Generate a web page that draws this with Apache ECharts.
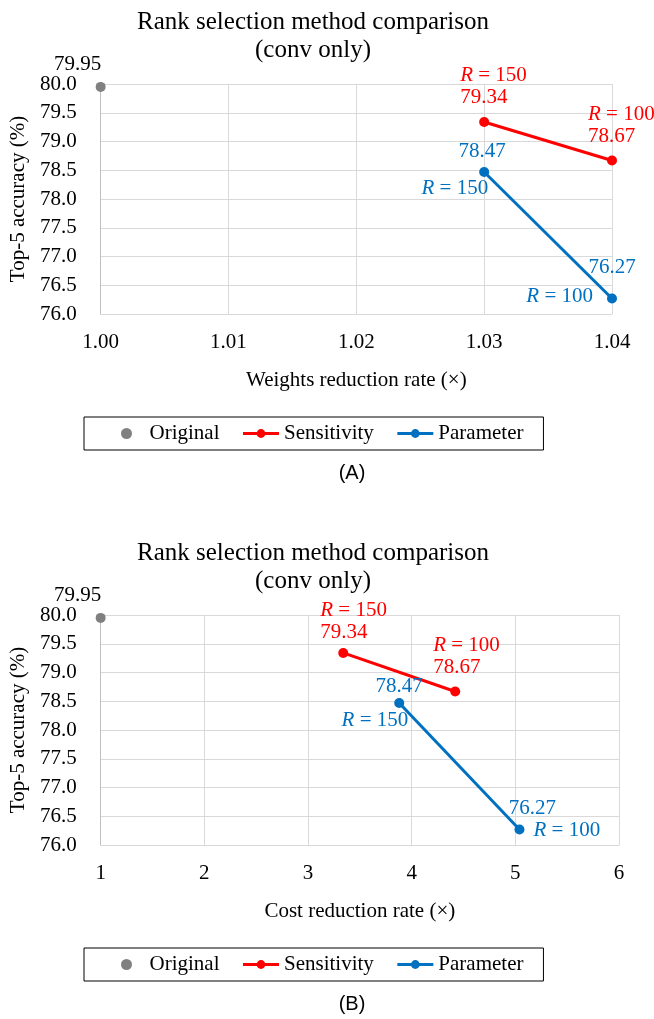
<!DOCTYPE html>
<html>
<head>
<meta charset="utf-8">
<script src="https://cdn.jsdelivr.net/npm/echarts@6/dist/echarts.min.js"></script>
<style>
html, body { margin: 0; padding: 0; background: #fff; }
#main { width: 654px; height: 1019px; }
</style>
</head>
<body>
<div id="main"></div>
<script>
// ---- data ----
var titleText = 'Rank selection method comparison\n(conv only)';
var seriesNames = ['Original', 'Sensitivity', 'Parameter'];
var ranks = [150, 100];

var accOriginal = [79.95];
var accSens = [79.34, 78.67];
var accParam = [78.47, 76.27];

// (A) weights reduction rate
var weightsOriginal = [1.00];
var weightsSens = [1.03, 1.04];
var weightsParam = [1.03, 1.04];
var weightsTicks = [1.00, 1.01, 1.02, 1.03, 1.04];

// (B) cost reduction rate
var costOriginal = [1];
var costSens = [3.34, 4.42];
var costParam = [3.88, 5.04];
var costTicks = [1, 2, 3, 4, 5, 6];

var accTicks = [76.0, 76.5, 77.0, 77.5, 78.0, 78.5, 79.0, 79.5, 80.0];

var SERIF = 'Liberation Serif';
var GREY = '#808080', RED = '#FF0000', BLUE = '#0070C0';

function pairs(xs, ys) {
    return xs.map(function (x, i) { return [x, ys[i]]; });
}

var chart = echarts.init(document.getElementById('main'));

var panels = [
    {
        x: [weightsOriginal, weightsSens, weightsParam], ticks: weightsTicks, digits: 2,
        name: 'Weights reduction rate (×)', shift: 0,
        grid: { left: 97, top: 84, width: 515, height: 230 },
        sensOff: [[-24, -3], [-24, -3]],
        paramOff: [[-2, 0], [0, -10]],
        rankLbl: [
            { position: 'bottom', align: 'right', offset: [4, -4] },
            { position: 'left', offset: [-9, -2] }
        ]
    },
    {
        x: [costOriginal, costSens, costParam], ticks: costTicks, digits: 0,
        name: 'Cost reduction rate (×)', shift: 531,
        grid: { left: 97, top: 615, width: 522, height: 230 },
        sensOff: [[-23, 1], [-22, -3]],
        paramOff: [[0, 4], [13, 0]],
        rankLbl: [
            { position: 'bottom', align: 'right', offset: [9, -3] },
            { position: 'right', offset: [4, 1] }
        ]
    }
];

var grids = [], xAxes = [], yAxes = [], series = [], legends = [], graphics = [];

panels.forEach(function (p, k) {
    grids.push(p.grid);
    xAxes.push({
        type: 'value', gridIndex: k,
        min: p.ticks[0], max: p.ticks[p.ticks.length - 1],
        interval: k === 0 ? 0.01 : 1,
        name: p.name, nameLocation: 'middle', nameGap: 56,
        nameTextStyle: { fontFamily: SERIF, fontSize: 21, color: '#000' },
        axisLine: { show: true, lineStyle: { color: '#D9D9D9', width: 1 } },
        axisTick: { show: false },
        splitLine: { show: true, lineStyle: { color: '#D9D9D9', width: 1 } },
        axisLabel: {
            margin: 18, fontFamily: SERIF, fontSize: 21, color: '#000',
            formatter: function (v) { return v.toFixed(p.digits); }
        }
    });
    yAxes.push({
        type: 'value', gridIndex: k,
        min: accTicks[0], max: accTicks[accTicks.length - 1], interval: 0.5,
        name: 'Top-5 accuracy (%)', nameLocation: 'middle', nameGap: 67,
        nameTextStyle: { fontFamily: SERIF, fontSize: 21, color: '#000' },
        axisLine: { show: true, lineStyle: { color: '#BFBFBF', width: 1 } },
        axisTick: { show: false },
        splitLine: { show: true, lineStyle: { color: '#D9D9D9', width: 1 } },
        axisLabel: {
            margin: 24, fontFamily: SERIF, fontSize: 21, color: '#000',
            formatter: function (v) { return v.toFixed(1); }
        }
    });

    var rich = { i: { fontStyle: 'italic', fontFamily: SERIF, fontSize: 21 } };

    series.push({
        name: seriesNames[0], type: 'scatter', xAxisIndex: k, yAxisIndex: k,
        symbol: 'circle', symbolSize: 10,
        itemStyle: { color: GREY, opacity: 1 },
        label: {
            show: true, position: 'top', offset: [-23, -2],
            fontFamily: SERIF, fontSize: 21, color: '#000',
            formatter: function (d) { return d.value[1].toFixed(2); }
        },
        data: pairs(p.x[0], accOriginal)
    });

    series.push({
        name: seriesNames[1], type: 'line', xAxisIndex: k, yAxisIndex: k,
        symbol: 'circle', symbolSize: 10,
        itemStyle: { color: RED }, lineStyle: { color: RED, width: 3 },
        label: {
            show: true, position: 'top', align: 'left', lineHeight: 22,
            fontFamily: SERIF, fontSize: 21, color: RED, rich: rich,
            formatter: function (d) {
                return '{i|R} = ' + ranks[d.dataIndex] + '\n' + d.value[1].toFixed(2);
            }
        },
        data: pairs(p.x[1], accSens).map(function (v, i) {
            return { value: v, label: { offset: p.sensOff[i] } };
        })
    });

    series.push({
        name: seriesNames[2], type: 'line', xAxisIndex: k, yAxisIndex: k,
        symbol: 'circle', symbolSize: 10,
        itemStyle: { color: BLUE }, lineStyle: { color: BLUE, width: 3 },
        label: {
            show: true, position: 'top',
            fontFamily: SERIF, fontSize: 21, color: BLUE,
            formatter: function (d) { return d.value[1].toFixed(2); }
        },
        data: pairs(p.x[2], accParam).map(function (v, i) {
            return { value: v, label: { offset: p.paramOff[i] } };
        })
    });

    // second label (rank) for the Parameter points
    series.push({
        name: 'Parameter rank', type: 'scatter', xAxisIndex: k, yAxisIndex: k,
        symbol: 'circle', symbolSize: 10, silent: true, z: 1,
        itemStyle: { color: 'rgba(0,0,0,0)', opacity: 1 },
        label: {
            show: true, fontFamily: SERIF, fontSize: 21, color: BLUE, rich: rich,
            formatter: function (d) { return '{i|R} = ' + ranks[d.dataIndex]; }
        },
        data: pairs(p.x[2], accParam).map(function (v, i) {
            return { value: v, label: p.rankLbl[i] };
        })
    });

    legends.push({
        data: seriesNames, left: 84, top: 417 + p.shift,
        itemWidth: 36, itemHeight: 11, itemGap: 22,
        padding: [6, 20, 6, 37],
        borderColor: '#000', borderWidth: 1,
        selectedMode: false,
        lineStyle: { width: 3 },
        textStyle: { fontFamily: SERIF, fontSize: 21, color: '#000' }
    });

    graphics.push({
        type: 'text', x: 313, y: 8 + p.shift,
        style: {
            text: titleText, align: 'center', verticalAlign: 'top',
            fontFamily: SERIF, fontSize: 25, lineHeight: 28, fill: '#000'
        }
    });
    graphics.push({
        type: 'text', x: 352, y: 473 + p.shift,
        style: {
            text: k === 0 ? '(A)' : '(B)', align: 'center', verticalAlign: 'middle',
            fontFamily: 'Liberation Sans', fontSize: 20, fill: '#000'
        }
    });
});

chart.setOption({
    animation: false,
    backgroundColor: '#fff',
    grid: grids,
    xAxis: xAxes,
    yAxis: yAxes,
    legend: legends,
    graphic: graphics,
    series: series
});
</script>
</body>
</html>
